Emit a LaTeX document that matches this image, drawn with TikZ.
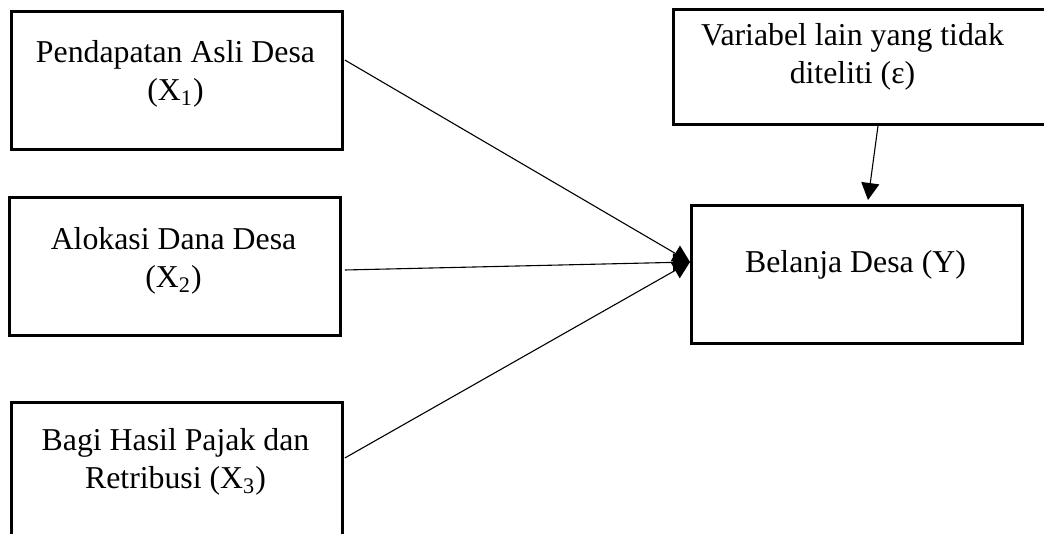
\documentclass[tikz,border=0pt]{standalone}
\usepackage{fontspec}
\setmainfont{Liberation Serif}
\usetikzlibrary{calc,arrows.meta}
\begin{document}
\begin{tikzpicture}[x=0.5pt,y=-0.5pt,
  box/.style={draw,line width=1.4pt,inner sep=0pt,anchor=north west,minimum width=165.5pt,minimum height=69pt},
  lbl/.style={align=center,inner sep=0pt,font=\fontsize{15.9}{19}\selectfont},
  conn/.style={line width=0.55pt,-{Triangle[length=8.5pt,width=9pt]}}]
\useasboundingbox (0,0) rectangle (1044,534);
\clip (0,0) rectangle (1044,534);
\fill[white] (0,0) rectangle (1044,534);
\node[box] (x1) at (10,10) {};
\node[box] (x2) at (8,196) {};
\node[box,minimum height=90pt] (x3) at (10,401) {};
\node[box,minimum width=194pt,minimum height=57.5pt] (eps) at (672,8) {};
\node[box] (y) at (690,204) {};
\node[lbl] (x1t) at (175.5,74) {Pendapatan Asli Desa\\(X\textsubscript{1})};
\node[lbl] (x2t) at (173.5,261) {Alokasi Dana Desa\\(X\textsubscript{2})};
\node[lbl] (x3t) at (175.5,462) {Bagi Hasil Pajak dan\\Retribusi (X\textsubscript{3})};
\node[lbl] (epst) at (852.5,57) {Variabel lain yang tidak\\diteliti (ε)};
\node[lbl] (yt) at (855.5,265) {Belanja Desa (Y)};
\coordinate (tgt) at ($(y.north west)+(0,58)$);
\draw[conn] ($(x1.north east)+(1,50)$) -- (tgt);
\draw[conn] ($(x2.north east)+(3,74)$) -- (tgt);
\draw[conn] ($(x3.north east)+(1,57)$) -- (tgt);
\draw[conn] ($(eps.south west)+(206,0)$) -- ($(y.north west)+(178,-4)$);
\end{tikzpicture}
\end{document}
